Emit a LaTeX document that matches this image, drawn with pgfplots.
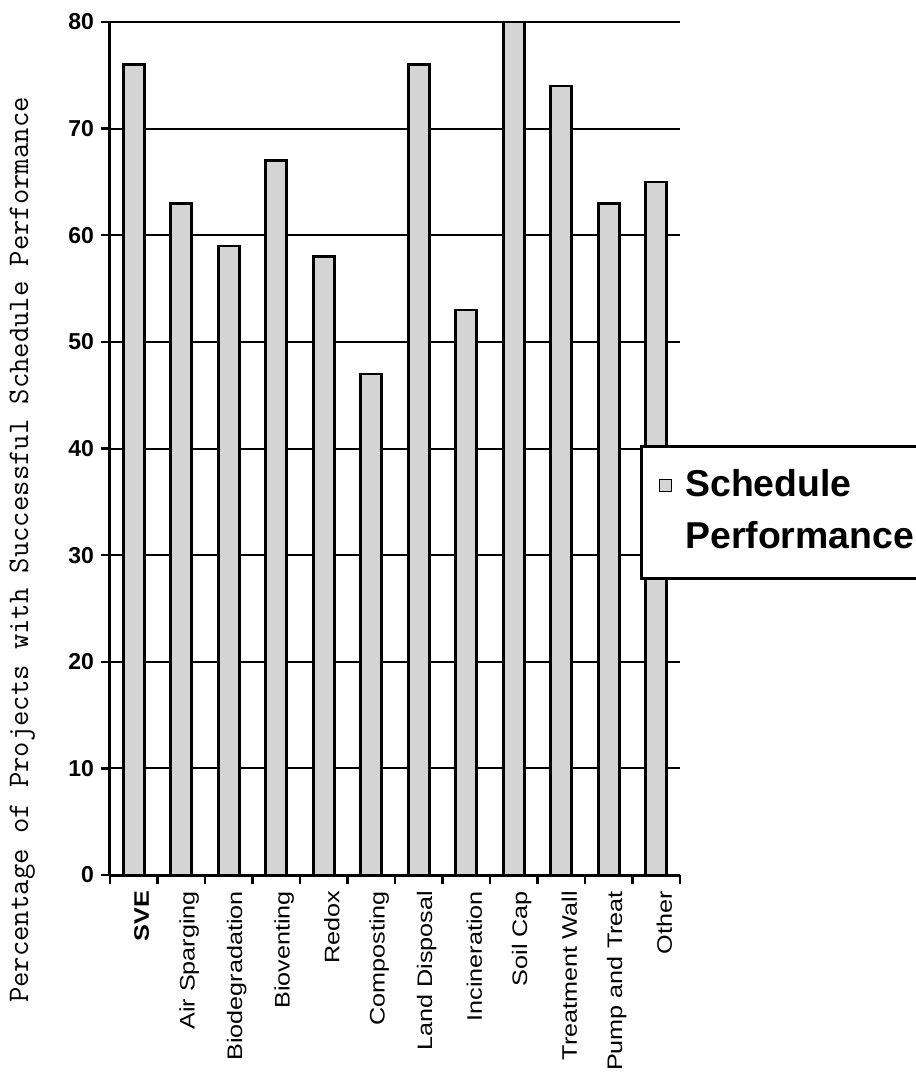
\documentclass[border=0pt]{standalone}
\usepackage{fontspec}
\setmainfont{Liberation Sans}
\newfontfamily\lblfont[FakeStretch=1.2]{Liberation Sans}
\usepackage{pgfplots}
\pgfplotsset{compat=1.18}

\definecolor{barfill}{gray}{0.83}

\begin{document}
\begin{tikzpicture}
\begin{axis}[
  at={(55pt,104pt)}, anchor=south west,
  scale only axis,
  width=285pt, height=426.5pt,
  ybar, bar width=10.5pt,
  xmin=-0.5, xmax=11.5,
  ymin=0, ymax=80,
  axis x line*=bottom, axis y line*=left,
  axis line style={line width=1.5pt},
  tick align=outside,
  major tick length=4.5pt,
  xtick={-0.5,0.5,...,11.5},
  x tick label as interval,
  xticklabels={\textbf{SVE},Air Sparging,Biodegradation,Bioventing,Redox,Composting,Land Disposal,Incineration,Soil Cap,Treatment Wall,Pump and Treat,Other},
  xticklabel style={font=\lblfont\fontsize{10.5}{12}\selectfont, rotate=90, anchor=east, yshift=-4pt},
  ytick={0,10,...,80},
  yticklabel style={font=\bfseries\fontsize{11.5}{12}\selectfont},
  /pgf/number format/assume math mode=true,
  every tick/.style={black, line width=1.2pt},
  ymajorgrids,
  major grid style={black, line width=1pt},
  ylabel={Percentage of Projects with Successful Schedule Performance},
  ylabel style={font=\ttfamily\fontsize{14.9}{16}\selectfont, at={(rel axis cs:-0.154,0.381)}, anchor=center},
  legend style={at={(rel axis cs:0.93,0.504)}, anchor=north west,
    draw=black, line width=1.3pt, fill=white,
    font=\bfseries\fontsize{18.7}{26}\selectfont,
    cells={align=left}, inner xsep=0pt, inner ysep=0pt,
    nodes={inner sep=0pt}, column sep=0pt},
  % the invisible rectangle sets the padding of the legend box
  legend image code/.code={
    \path[draw=none, fill=none] (0pt,-34pt) rectangle (22pt,32pt);
    \draw[fill=barfill, line width=0.8pt] (9pt,9.5pt) rectangle (15pt,15.5pt);},
]
\addplot[draw=black, line width=1.3pt, fill=barfill]
  coordinates {(0,76) (1,63) (2,59) (3,67) (4,58) (5,47) (6,76) (7,53) (8,80) (9,74) (10,63) (11,65)};
\addlegendentry{Schedule\\Performance\hspace*{30pt}}
\end{axis}
\pgfresetboundingbox
\useasboundingbox (0,0) rectangle (458pt,541.5pt);
\end{tikzpicture}
\end{document}
